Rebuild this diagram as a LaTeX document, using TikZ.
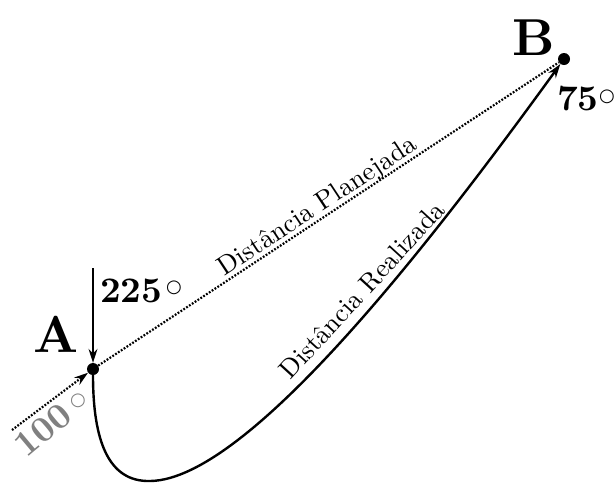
\documentclass[tikz,border=0pt]{standalone}
\usepackage{fontspec}
\usetikzlibrary{arrows.meta}
\newfontfamily\symfont{DejaVu Sans}
\newcommand{\bigtxt}[1]{\scalebox{5.2}{\fontsize{10}{12}\selectfont\bfseries #1}}
\newcommand{\numtxt}[1]{\scalebox{3.6}{\fontsize{10}{12}\selectfont\bfseries #1}}
\newcommand{\lbltxt}[1]{\scalebox{2.65}{\fontsize{10}{12}\selectfont #1}}
\tikzset{
  dot/.style={circle,fill=black,inner sep=0pt,minimum size=12pt},
  planned/.style={line width=2.2pt,dash pattern=on 1.8pt off 1.6pt},
  tip/.style={-{Stealth[length=14pt,width=9pt]}},
  deg/.style={font=\fontsize{18}{20}\selectfont\symfont,inner sep=0pt}
}
\begin{document}
\begin{tikzpicture}[x=1pt,y=-1pt]
\useasboundingbox (0,0) rectangle (615,483);
\node[dot] (A) at (93,369) {};
\node[dot] (B) at (564,59) {};
\coordinate (top) at (93,268);
\coordinate (in) at (12,430);
% planned path
\draw[planned] (A) -- (B);
\draw[planned,tip] (in) -- (A);
\draw[line width=1.5pt,tip] (top) -- (A);
% realized path
\draw[line width=2.4pt,tip] (A) .. controls (93,440) and (108,482) .. (150,481)
   .. controls (250,480) and (440,230) .. (B);
% labels
\node[anchor=base,inner sep=0pt] (la) at (56,352) {\bigtxt{A}};
\node[anchor=base,inner sep=0pt] (lb) at (534,55) {\bigtxt{B}};
\node[anchor=base west,inner sep=0pt] (n225) at (100,302) {\numtxt{225}};
\node[deg] (d225) at (174,288) {○};
\node[anchor=base west,inner sep=0pt] (n75) at (557,110) {\numtxt{75}};
\node[deg] (d75) at (607,97) {○};
\node[text=gray,rotate=40,inner sep=0pt] (n100) at (43,430) {\numtxt{100}};
\node[deg,text=gray] (d100) at (78,401) {○};
\node[rotate=33.4,inner sep=0pt] (lp) at (318,207) {\lbltxt{Distância Planejada}};
\node[rotate=47.5,inner sep=0pt] (lr) at (362,290) {\lbltxt{Distância Realizada}};
\end{tikzpicture}
\end{document}
